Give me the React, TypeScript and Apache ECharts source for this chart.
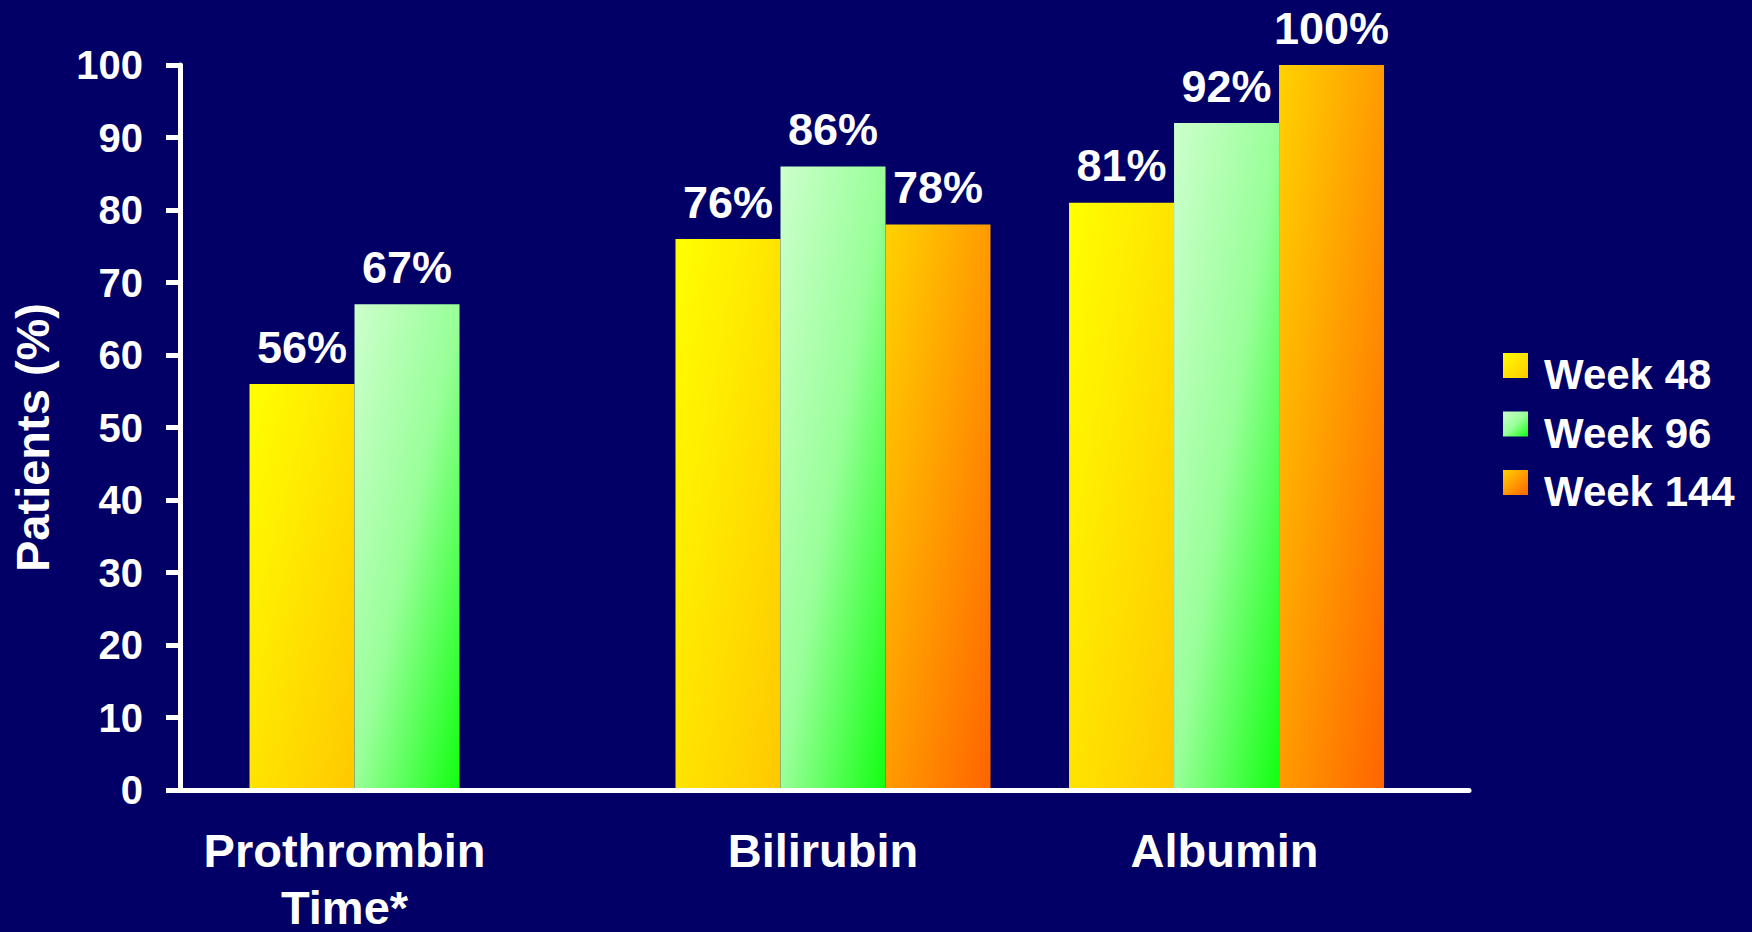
import { useEffect, useRef } from "react";
import * as echarts from "echarts";

// ---- data ----
const categories = ["Prothrombin\nTime*", "Bilirubin", "Albumin"];
const seriesNames = ["Week 48", "Week 96", "Week 144"];
const week48: (number | null)[] = [56, 76, 81];
const week96: (number | null)[] = [67, 86, 92];
const week144: (number | null)[] = [null, 78, 100];
const yAxisName = "Patients (%)";

const FONT = '"Liberation Sans", Arial, Helvetica, sans-serif';
const WHITE = "#ffffff";

// x is measured in bar widths; each group is centred on its own position
const X_MAX = 12.276;
const GROUP_CENTERS = [1.662, 6.219, 9.967];
// small horizontal nudges (px) of the group captions
const CAPTION_SHIFT = [-10, -10, -2];

const seriesValues = [week48, week96, week144];

const gradients = [
  new echarts.graphic.LinearGradient(0, 0, 1, 1, [
    { offset: 0, color: "#FFFF00" },
    { offset: 1, color: "#FFC800" },
  ]),
  new echarts.graphic.LinearGradient(0, 0, 1, 1, [
    { offset: 0, color: "#CCFFCC" },
    { offset: 0.5, color: "#99FF99" },
    { offset: 1, color: "#11FF11" },
  ]),
  new echarts.graphic.LinearGradient(0, 0, 1, 1, [
    { offset: 0, color: "#FFD200" },
    { offset: 1, color: "#FF6400" },
  ]),
];

// offset (in bar widths) of a series' bar from its group centre,
// counting only the bars that are present in that group
function slotOffset(cat: number, s: number): number {
  const present = seriesValues
    .map((vals, k) => (vals[cat] == null ? -1 : k))
    .filter((k) => k >= 0);
  return present.indexOf(s) - present.length / 2;
}

function buildOption(): echarts.EChartsCoreOption {
  const barSeries = seriesValues.map((vals, s) => ({
    type: "custom",
    name: seriesNames[s],
    coordinateSystem: "cartesian2d",
    itemStyle: { color: gradients[s] },
    encode: { x: 0, y: 1 },
    data: vals
      .map((v, i) => (v == null ? null : [i, v]))
      .filter((d) => d !== null),
    renderItem: (_params: any, api: any) => {
      const cat = api.value(0) as number;
      const val = api.value(1) as number;
      const left = GROUP_CENTERS[cat] + slotOffset(cat, s);
      const pTop = api.coord([left, val]);
      const pBase = api.coord([left + 1, 0]);
      const cx = (pTop[0] + pBase[0]) / 2;
      return {
        type: "group",
        children: [
          {
            type: "rect",
            shape: {
              x: pTop[0],
              y: pTop[1],
              width: pBase[0] - pTop[0],
              height: pBase[1] - pTop[1],
            },
            style: { fill: gradients[s] },
          },
          {
            type: "text",
            x: cx,
            y: pTop[1] - 37,
            style: {
              text: `${val}%`,
              fill: WHITE,
              fontSize: 45,
              fontWeight: "bold",
              fontFamily: FONT,
              align: "center",
              verticalAlign: "middle",
            },
          },
        ],
      };
    },
  }));

  const categoryLabels = {
    type: "custom",
    name: "categories",
    coordinateSystem: "cartesian2d",
    encode: { x: 0, y: 1 },
    data: categories.map((_c, i) => [i, 0]),
    silent: true,
    renderItem: (_params: any, api: any) => {
      const i = api.value(0) as number;
      const p = api.coord([GROUP_CENTERS[i], 0]);
      return {
        type: "text",
        x: p[0] + CAPTION_SHIFT[i],
        y: p[1] + 32,
        style: {
          text: categories[i],
          fill: WHITE,
          fontSize: 47,
          fontWeight: "bold",
          fontFamily: FONT,
          lineHeight: 57,
          align: "center",
          verticalAlign: "top",
        },
      };
    },
  };

  return {
    animation: false,
    backgroundColor: "#020066",
    grid: { left: 180, right: 283, top: 65, bottom: 142, containLabel: false },
    legend: {
      data: seriesNames,
      orient: "vertical",
      left: 1503,
      top: 353,
      padding: 0,
      itemGap: 16,
      itemWidth: 25,
      itemHeight: 25,
      icon: "rect",
      selectedMode: false,
      formatter: "{t|{name}}",
      textStyle: {
        color: WHITE,
        fontSize: 42,
        fontWeight: "bold",
        fontFamily: FONT,
        rich: {
          t: {
            color: WHITE,
            fontSize: 42,
            fontWeight: "bold",
            fontFamily: FONT,
            padding: [18, 0, 0, 11],
          },
        },
      },
    },
    xAxis: {
      type: "value",
      min: 0,
      max: X_MAX,
      z: 5,
      axisLine: { show: true, onZero: false, lineStyle: { color: WHITE, width: 5 } },
      axisTick: { show: false },
      axisLabel: { show: false },
      splitLine: { show: false },
    },
    yAxis: {
      type: "value",
      min: 0,
      max: 100,
      interval: 10,
      name: yAxisName,
      nameLocation: "middle",
      nameGap: 124,
      nameTextStyle: {
        color: WHITE,
        fontSize: 47,
        fontWeight: "bold",
        fontFamily: FONT,
        padding: [0, 20, 0, 0],
      },
      axisLine: { show: true, lineStyle: { color: WHITE, width: 5 } },
      axisTick: { show: true, length: 14, lineStyle: { color: WHITE, width: 5 } },
      axisLabel: {
        color: WHITE,
        fontSize: 40,
        fontWeight: "bold",
        fontFamily: FONT,
        margin: 37,
        padding: [12, 0, 0, 0],
      },
      splitLine: { show: false },
    },
    series: [...barSeries, categoryLabels],
  };
}

export default function App() {
  const ref = useRef<HTMLDivElement>(null);

  useEffect(() => {
    if (!ref.current) return;
    const chart = echarts.init(ref.current, null, { renderer: "svg" });
    chart.setOption(buildOption());
    return () => chart.dispose();
  }, []);

  return (
    <div
      ref={ref}
      style={{ position: "fixed", left: 0, top: 0, width: "1752px", height: "932px" }}
    />
  );
}
